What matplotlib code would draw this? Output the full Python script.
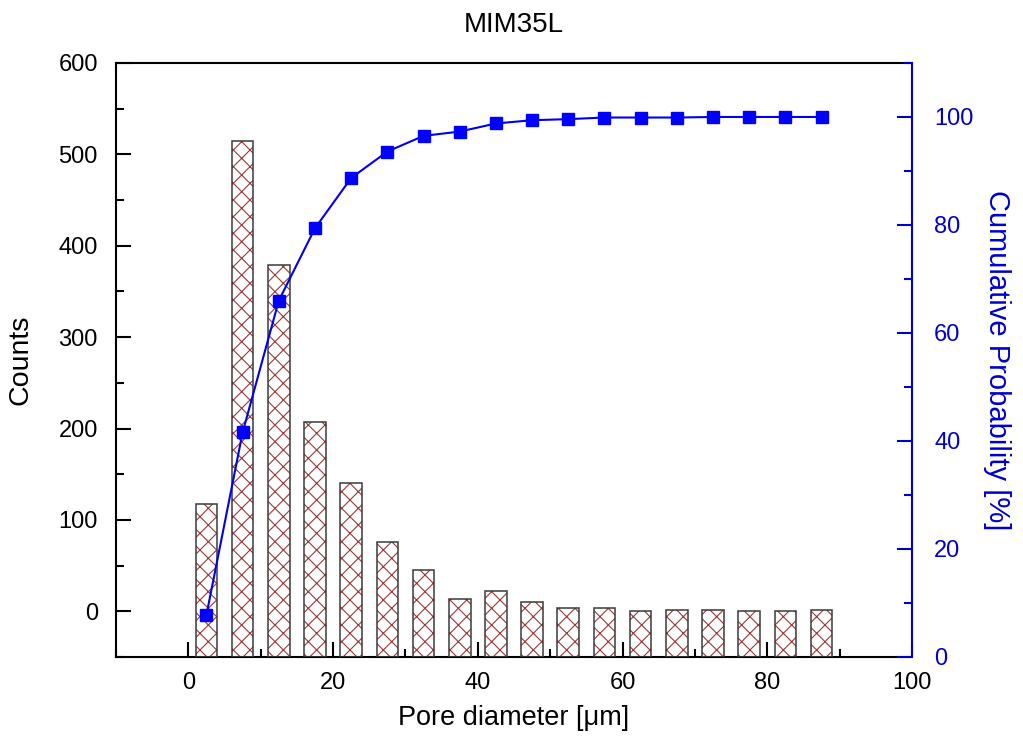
import matplotlib
matplotlib.use("Agg")
import matplotlib.pyplot as plt
from matplotlib.ticker import MultipleLocator

plt.rcParams['font.family'] = ['Liberation Sans', 'DejaVu Sans']
plt.rcParams['hatch.linewidth'] = 0.8

bin_centers = [2.5, 7.5, 12.5, 17.5, 22.5, 27.5, 32.5, 37.5, 42.5, 47.5,
               52.5, 57.5, 62.5, 67.5, 72.5, 77.5, 82.5, 87.5]
counts = [117, 515, 379, 207, 140, 76, 45, 13, 22, 10,
          4, 4, 0, 1, 1, 0, 0, 1]
cumulative = [7.8, 41.6, 66.0, 79.4, 88.7, 93.6, 96.5, 97.3, 98.8, 99.4,
              99.6, 99.9, 99.9, 99.9, 100, 100, 100, 100]

title = "MIM35L"
xlabel = "Pore diameter [\u03bcm]"
ylabel_left = "Counts"
ylabel_right = "Cumulative Probability [%]"

fig = plt.figure(figsize=(10.23, 7.48), dpi=100)
ax = fig.add_axes([0.1134, 0.1217, 0.7781, 0.7941])

base = -50
heights = [c - base for c in counts]
ax.bar(bin_centers, heights, width=3.0, bottom=base, color='white',
       edgecolor='#9A3838', hatch='xx', linewidth=0, zorder=2)
ax.bar(bin_centers, heights, width=3.0, bottom=base, fill=False,
       edgecolor='#3a3a3a', linewidth=1.1, zorder=3)

ax.set_xlim(-10, 100)
ax.set_ylim(-50, 600)
ax.xaxis.set_major_locator(MultipleLocator(20))
ax.xaxis.set_minor_locator(MultipleLocator(10))
ax.yaxis.set_major_locator(MultipleLocator(100))
ax.yaxis.set_minor_locator(MultipleLocator(50))
ax.tick_params(axis='both', which='major', direction='in', length=11, width=1.5,
               labelsize=17)
ax.tick_params(axis='y', which='major', pad=13)
ax.tick_params(axis='x', which='major', pad=11)
ax.tick_params(axis='both', which='minor', direction='in', length=6, width=1.5)
ax.tick_params(axis='x', which='both', top=False)
ax.tick_params(axis='y', which='both', right=False)
for s in ['left', 'bottom', 'top']:
    ax.spines[s].set_linewidth(1.5)
ax.spines['right'].set_visible(False)

ax.set_xlabel(xlabel, fontsize=19.5, labelpad=8)
ax.set_ylabel(ylabel_left, fontsize=20.5, labelpad=18)
ax.set_title(title, fontsize=20, pad=22)

ax2 = ax.twinx()
ax2.plot(bin_centers, cumulative, color='#0000EE', linewidth=1.5,
         marker='s', markersize=8.5, markerfacecolor='#0000FF',
         markeredgecolor='#0000FF', zorder=5)
ax2.set_ylim(0, 110)
ax2.yaxis.set_major_locator(MultipleLocator(20))
ax2.yaxis.set_minor_locator(MultipleLocator(10))
ax2.tick_params(axis='y', which='major', direction='in', length=11, width=1.5,
                labelsize=17, colors='#0000CC', pad=16)
ax2.tick_params(axis='y', which='minor', direction='in', length=6, width=1.5,
                colors='#0000CC')
ax2.spines['right'].set_color('#0000CC')
ax2.spines['right'].set_linewidth(1.5)
for s in ['left', 'bottom', 'top']:
    ax2.spines[s].set_visible(False)
ax2.set_ylabel(ylabel_right, fontsize=21, color='#0000CC', rotation=270,
               labelpad=27)

fig.savefig("out.png", dpi=100)
